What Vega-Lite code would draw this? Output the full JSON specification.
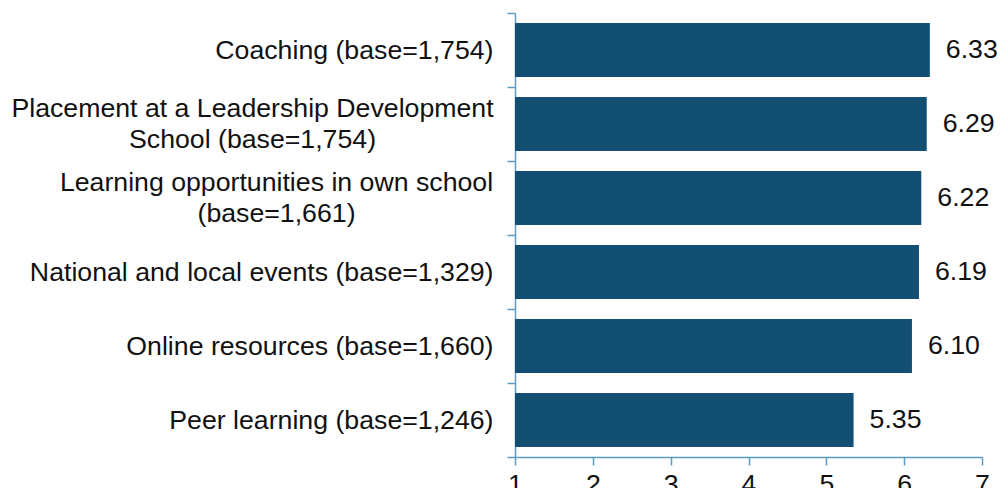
{
  "$schema": "https://vega.github.io/schema/vega-lite/v6.json",
  "autosize": "none",
  "width": 467,
  "height": 444,
  "padding": {"left": 515, "top": 13, "right": 19, "bottom": 31},
  "background": "white",
  "config": {
    "view": {"stroke": null},
    "font": "Liberation Sans",
    "text": {"font": "Liberation Sans"}
  },
  "data": {
    "values": [
      {"category": "Coaching (base=1,754)", "score": 6.33, "label": "6.33"},
      {"category": ["Placement at a Leadership Development", "School (base=1,754)"], "score": 6.29, "label": "6.29"},
      {"category": ["Learning opportunities in own school", "(base=1,661)"], "score": 6.22, "label": "6.22"},
      {"category": "National and local events (base=1,329)", "score": 6.19, "label": "6.19"},
      {"category": "Online resources (base=1,660)", "score": 6.10, "label": "6.10"},
      {"category": "Peer learning (base=1,246)", "score": 5.35, "label": "5.35"}
    ]
  },
  "encoding": {
    "y": {
      "field": "category",
      "type": "nominal",
      "sort": null,
      "scale": {"paddingInner": 0, "paddingOuter": 0},
      "axis": {
        "title": null,
        "tickBand": "extent",
        "tickSize": 8,
        "tickColor": "#5a9cc5",
        "domainColor": "#5a9cc5",
        "tickWidth": 1.5,
        "domainWidth": 1.5,
        "labelFont": "Liberation Sans",
        "labelFontSize": 26.7,
        "labelColor": "#111111",
        "labelAlign": {"condition": {"test": "isArray(datum.value)", "value": "center"}, "value": "right"},
        "labelPadding": {"condition": [
          {"test": "isArray(datum.value) && datum.value[1] == 'School (base=1,754)'", "value": 255},
          {"test": "isArray(datum.value)", "value": 231}
        ], "value": 14},
        "labelOffset": {"condition": {"test": "isArray(datum.value)", "value": -15.5}, "value": 0},
        "labelLineHeight": 31,
        "labelLimit": 600
      }
    }
  },
  "layer": [
    {
      "mark": {"type": "bar", "color": "#134f73", "height": {"band": 0.73}},
      "encoding": {
        "x": {
          "field": "score",
          "type": "quantitative",
          "scale": {"domain": [1, 7], "zero": false, "nice": false},
          "axis": {
            "title": null,
            "values": [1, 2, 3, 4, 5, 6, 7],
            "format": "d",
            "grid": false,
            "tickSize": 8,
            "tickColor": "#5a9cc5",
            "domainColor": "#5a9cc5",
            "tickWidth": 1.5,
            "domainWidth": 1.5,
            "labelFont": "Liberation Sans",
            "labelFontSize": 26.7,
            "labelColor": "#111111",
            "labelPadding": 6,
            "labelFlush": false
          }
        },
        "x2": {"datum": 1}
      }
    },
    {
      "mark": {"type": "text", "align": "left", "baseline": "middle", "dx": 16, "fontSize": 26.7, "color": "#111111", "font": "Liberation Sans"},
      "encoding": {
        "x": {"field": "score", "type": "quantitative"},
        "text": {"field": "label"}
      }
    }
  ]
}
